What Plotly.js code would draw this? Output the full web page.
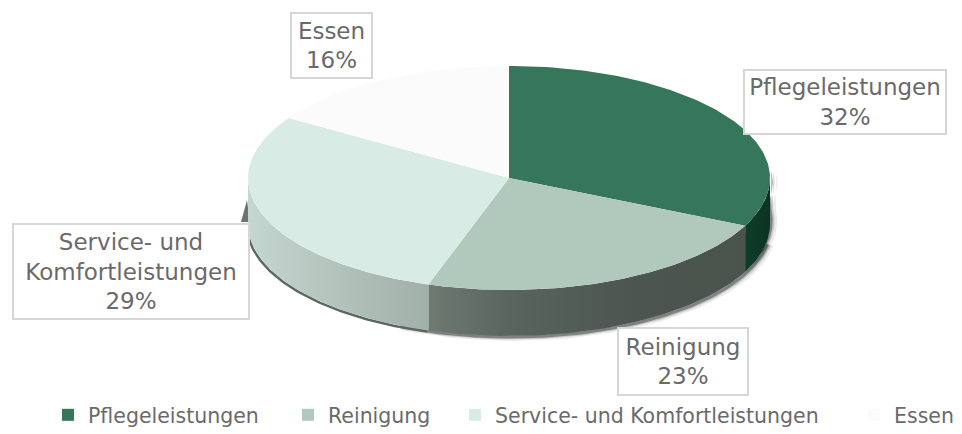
<!DOCTYPE html>
<html><head><meta charset="utf-8">
<script src="https://cdn.plot.ly/plotly-3.0.1.min.js"></script>
<style>html,body{margin:0;padding:0;background:#fff}#c{width:962px;height:434px}</style>
</head><body><div id="c"></div>
<script>
const categories = ['Pflegeleistungen','Reinigung','Service- und Komfortleistungen','Essen'];
const values = [32,23,29,16];
const labelLines = ['Pflegeleistungen<br>32%','Reinigung<br>23%','Service- und<br>Komfortleistungen<br>29%','Essen<br>16%'];
const topColors = ['#36765a','#b1c9bd','#d8ece5','#fbfbfb'];
const labelBoxes = [[744,946,70,134],[618,748,328,395],[13,249,224,319],[291,372,13,78]];
const legendLeft = [48,288,455,854];
const wallScales = [
  [[0,'#0f3d2a'],[1,'#0c3323']],
  [[0,'#6f7a73'],[0.25,'#5a6560'],[0.65,'#4c554f'],[1,'#4a534c']],
  [[0,'#c3d6cf'],[0.5,'#b2c3bc'],[1,'#a1b0a9']]
];
const cx=509, cy=178, rx=261, ry=112, depth=46;
const total = values.reduce((a,b)=>a+b,0);
const pt = (deg,dy=0)=>{const r=deg*Math.PI/180;return [cx+rx*Math.sin(r), cy-ry*Math.cos(r)+dy];};
const arc = (a,b,dy=0)=>{const o=[];const n=Math.max(2,Math.ceil(Math.abs(b-a)));for(let i=0;i<=n;i++)o.push(pt(a+(b-a)*i/n,dy));return o;};
const poly = (pts,extra)=>Object.assign({type:'scatter',mode:'lines',x:pts.map(p=>p[0]),y:pts.map(p=>p[1]),fill:'toself',line:{width:0},hoverinfo:'skip',showlegend:false},extra);
const stroke = (pts,w,c)=>({type:'scatter',mode:'lines',x:pts.map(p=>p[0]),y:pts.map(p=>p[1]),line:{color:c,width:w},hoverinfo:'skip',showlegend:false});
const traces=[];
// soft shadow along the lower rim
[[8,'rgba(0,0,0,0.08)'],[5,'rgba(0,0,0,0.16)'],[3,'rgba(20,30,25,0.40)']].forEach(s=>{
  traces.push(stroke(arc(100,205,depth+1).map(p=>[p[0]+s[0]*0.5,p[1]]),s[0],s[1]));
  const r=arc(84,118,depth-4).concat(arc(118,84,4)).map(p=>[p[0]+s[0]*0.9,p[1]+1]);
  traces.push(poly(r,{fillcolor:s[1]}));
});
traces.push(stroke(arc(198,266,depth).map(p=>[p[0]-1,p[1]+1]),2.5,'#5d6762'));
// small dark sliver at far left rear
const lf=pt(270);
traces.push(poly([[lf[0]-1,lf[1]+22],[lf[0]-7,lf[1]+44],[lf[0]+2,lf[1]+44]],{fillcolor:'#6a7470'}));
// walls
let cum=0; const angles=values.map(v=>{const s=cum/total*360;cum+=v;return [s,cum/total*360];});
angles.forEach((a,i)=>{
  const s=Math.max(a[0],90), e=Math.min(a[1],270);
  if(e<=s) return;
  const pts=arc(s,e,0).concat(arc(e,s,depth));
  traces.push(poly(pts,{fillgradient:{type:'horizontal',colorscale:wallScales[i]},fillcolor:'rgba(0,0,0,0)'}));
});
// top faces
angles.forEach((a,i)=>{
  const pts=[[cx,cy]].concat(arc(a[0],a[1],0)).concat([[cx,cy]]);
  traces.push(poly(pts,{fillcolor:topColors[i],name:categories[i]}));
});
// legend entries, one legend per entry to keep the reference's uneven spacing
const legendFont={family:'DejaVu Sans',size:20.5,color:'#6a6a6a'};
const layout={width:962,height:434,margin:{l:0,r:0,t:0,b:0,autoexpand:false},paper_bgcolor:'#fff',plot_bgcolor:'#fff',
  xaxis:{range:[0,962],visible:false,fixedrange:true},yaxis:{range:[434,0],visible:false,fixedrange:true}};
categories.forEach((c,i)=>{
  const key=i===0?'legend':'legend'+(i+1);
  traces.push({type:'scatter',mode:'markers',x:[null],y:[null],name:c,legend:key,showlegend:true,hoverinfo:'skip',marker:{symbol:'square',size:13,color:topColors[i]}});
  layout[key]={x:legendLeft[i]/962,xanchor:'left',y:19/434,yanchor:'middle',itemsizing:'constant',bgcolor:'rgba(0,0,0,0)',font:legendFont};
});
layout.annotations=labelLines.map((t,i)=>{const b=labelBoxes[i];return {x:(b[0]+b[1])/2,y:(b[2]+b[3])/2,xref:'x',yref:'y',text:t,showarrow:false,align:'center',valign:'middle',
  width:b[1]-b[0]-2,height:b[3]-b[2]-2,borderpad:0,
  bgcolor:'#ffffff',bordercolor:'#d6d6d6',borderwidth:2,font:{family:'DejaVu Sans',size:23,color:'#6a6a6a'}};});
Plotly.newPlot('c',traces,layout,{displayModeBar:false,staticPlot:true});
</script></body></html>
